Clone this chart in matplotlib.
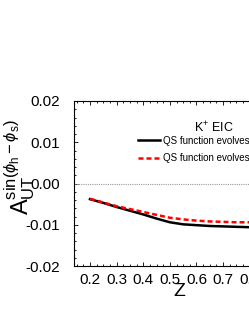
import matplotlib
matplotlib.use('Agg')
import matplotlib.pyplot as plt
from matplotlib.ticker import MultipleLocator
import numpy

# values
z = [0.2, 0.25, 0.3, 0.35, 0.4, 0.45, 0.5, 0.55, 0.6, 0.65, 0.7, 0.75, 0.8]
a_black = [-0.0038, -0.0047, -0.0057, -0.0066, -0.0075, -0.0085, -0.0094,
           -0.0099, -0.0101, -0.0103, -0.0104, -0.0105, -0.0106]
a_red = [-0.0037, -0.0046, -0.0055, -0.0062, -0.0069, -0.0076, -0.0083,
         -0.0087, -0.0090, -0.0092, -0.0093, -0.0094, -0.0094]
labels = ['QS function evolves with DGLAP', 'QS function evolves with approx.']
x_ticks = [0.2, 0.3, 0.4, 0.5, 0.6, 0.7, 0.8, 0.9]
y_ticks = [-0.02, -0.01, 0.0, 0.01, 0.02]


def plot():
  plt.rc('font', family='Liberation Sans')
  plt.rc('mathtext', fontset='custom', rm='Liberation Sans', it='Liberation Sans:italic')

  fig = plt.figure(figsize=(2.49, 3.23), dpi=100)
  ax = fig.add_axes([74/249, 1 - 266/323, 229/249, 165/323])

  ax.axhline(0.0, color='#999999', lw=0.8, ls=(0, (1, 1)))
  ax.plot(z, a_black, color='black', lw=1.8, label=labels[0])
  ax.plot(z, a_red, color='red', lw=1.8, ls=(0, (2, 1.2)), label=labels[1])

  ax.set_xlim(0.14, 1.0)
  ax.set_ylim(-0.02, 0.02)
  ax.set_xticks(x_ticks)
  ax.set_xticklabels(['%.1f' % t for t in x_ticks])
  ax.set_yticks(y_ticks)
  ax.set_yticklabels(['%.2f' % t for t in y_ticks])
  ax.xaxis.set_minor_locator(MultipleLocator(0.025))
  ax.yaxis.set_minor_locator(MultipleLocator(0.002))
  ax.tick_params(which='both', direction='in', top=True, right=True, labelsize=11, width=0.6)
  ax.tick_params(which='major', length=3)
  ax.tick_params(axis='y', pad=10)
  ax.tick_params(axis='x', pad=5)
  ax.tick_params(which='minor', length=1.5)
  for s in ax.spines.values():
    s.set_linewidth(0.8)

  ax.set_xlabel('Z', fontsize=14, fontstyle='normal')
  ax.xaxis.set_label_coords((179 - 74) / 229, -0.1)
  ax.set_ylabel(r'$\mathrm{A}_{\mathrm{UT}}^{\mathrm{sin}(\phi_{\mathrm{h}}-\phi_{\mathrm{s}})}$', fontsize=17)
  ax.yaxis.set_label_coords(-0.16, 0.6)

  ax.text(0.611, 0.84, r'K$^{+}$ EIC', transform=ax.transAxes, fontsize=9, ha='center', va='center')
  ax.legend(loc='upper left', bbox_to_anchor=(0.279, 0.79), frameon=False, fontsize=7,
            handlelength=2.3, handletextpad=0.3, labelspacing=0.75, borderpad=0,
            borderaxespad=0)

  plt.savefig('out.png', dpi=100)


plot()
